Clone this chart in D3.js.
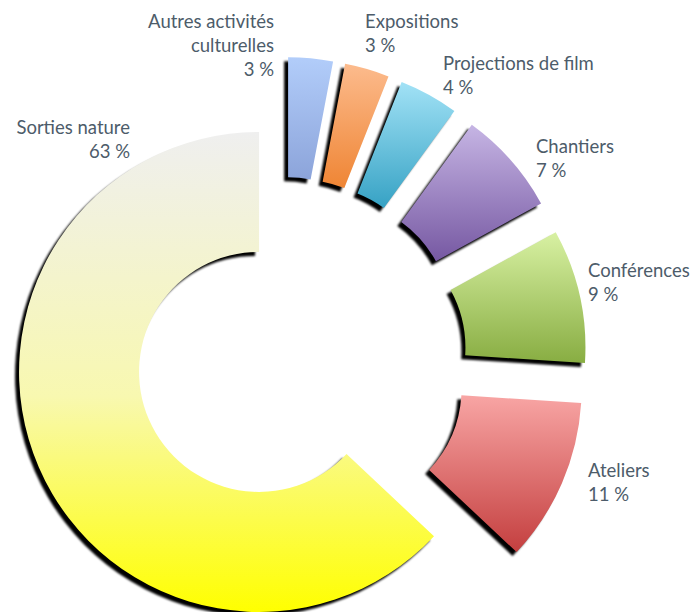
<!DOCTYPE html>
<html lang="fr">
<head>
  <meta charset="UTF-8">
  <title>Activités</title>
  <script src="https://cdn.jsdelivr.net/npm/d3@7"></script>
  <style>
    body { margin: 0; background: #fff; }
    .label { font-family: 'Gill Sans', 'Lato', sans-serif; font-size: 18.5px; fill: #4d5c6a; }
  </style>
</head>
<body>
  <div id="chart"></div>
  <script>
    // Data, clockwise from 12 o'clock
    const categories = ['Autres activités culturelles', 'Expositions', 'Projections de film',
      'Chantiers', 'Conférences', 'Ateliers', 'Sorties nature'];
    const values = [3, 3, 4, 7, 9, 11, 63];
    const percentLabels = ['3 %', '3 %', '4 %', '7 %', '9 %', '11 %', '63 %'];

    // Gradient colours (top -> bottom) for each slice
    const topColors = ['#b2cdfa', '#fcbb8d', '#a2e2f6', '#c6b5e4', '#d8f1a3', '#f8a5a4', '#efefef'];
    const midColors = [null, null, null, null, null, null, '#f8f8b0'];
    const bottomColors = ['#8ca4da', '#ef8534', '#36a2c4', '#7658a2', '#88ad42', '#c43f3f', '#ffff00'];

    // Layout
    let width = 695, height = 612;
    let center = { x: 282, y: 362 };
    let outerR = 240, innerR = 120;
    let explode = [65, 65, 65, 65, 65, 65, 25];
    let shadow = { dx: -4, dy: 4 };

    // Label blocks: anchor, x, first baseline
    let labelLayout = [
      { lines: ['Autres activités', 'culturelles'], anchor: 'end', x: 274, y: 28 },
      { lines: ['Expositions'], anchor: 'start', x: 365, y: 28 },
      { lines: ['Projections de film'], anchor: 'start', x: 443, y: 70 },
      { lines: ['Chantiers'], anchor: 'start', x: 536, y: 153 },
      { lines: ['Conférences'], anchor: 'start', x: 588, y: 277 },
      { lines: ['Ateliers'], anchor: 'start', x: 588, y: 477 },
      { lines: ['Sorties nature'], anchor: 'end', x: 130, y: 134 }
    ];
    let lineH = 24;

    let svg = d3.select('#chart').append('svg')
      .attr('width', width)
      .attr('height', height);

    let defs = svg.append('defs');
    defs.append('filter')
      .attr('id', 'blur')
      .append('feGaussianBlur')
      .attr('stdDeviation', 0.8);

    categories.forEach((c, i) => {
      let g = defs.append('linearGradient')
        .attr('id', 'grad' + i)
        .attr('x1', 0).attr('y1', 0).attr('x2', 0).attr('y2', 1);
      g.append('stop').attr('offset', '0%').attr('stop-color', topColors[i]);
      if (midColors[i]) g.append('stop').attr('offset', '55%').attr('stop-color', midColors[i]);
      g.append('stop').attr('offset', '100%').attr('stop-color', bottomColors[i]);
    });

    let pie = d3.pie().sort(null).value(d => d);
    let arc = d3.arc().innerRadius(innerR).outerRadius(outerR);
    let arcs = pie(values);

    function offsetOf(d, i) {
      let a = (d.startAngle + d.endAngle) / 2;
      return [center.x + explode[i] * Math.sin(a), center.y - explode[i] * Math.cos(a)];
    }

    // shadows first
    svg.append('g').selectAll('path.shadow')
      .data(arcs).enter()
      .append('path')
      .attr('class', 'shadow')
      .attr('d', arc)
      .attr('fill', '#000')
      .attr('filter', 'url(#blur)')
      .attr('transform', (d, i) => {
        let o = offsetOf(d, i);
        return `translate(${o[0] + shadow.dx}, ${o[1] + shadow.dy})`;
      });

    svg.append('g').selectAll('path.slice')
      .data(arcs).enter()
      .append('path')
      .attr('class', 'slice')
      .attr('d', arc)
      .attr('fill', (d, i) => `url(#grad${i})`)
      .attr('transform', (d, i) => `translate(${offsetOf(d, i)})`);

    // Labels
    let labels = svg.append('g').selectAll('text')
      .data(labelLayout).enter()
      .append('text')
      .attr('class', 'label')
      .attr('text-anchor', d => d.anchor)
      .attr('x', d => d.x)
      .attr('y', d => d.y);

    labels.each(function (d, i) {
      let t = d3.select(this);
      d.lines.concat([percentLabels[i]]).forEach((l, j) => {
        t.append('tspan')
          .attr('x', d.x)
          .attr('dy', j === 0 ? 0 : lineH)
          .text(l);
      });
    });
  </script>
</body>
</html>
